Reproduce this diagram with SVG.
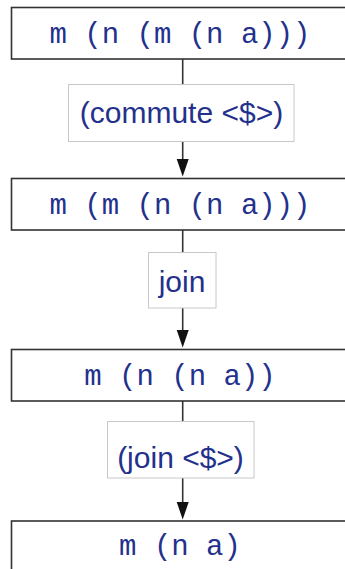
<svg xmlns="http://www.w3.org/2000/svg" width="345" height="569" viewBox="0 0 345 569">
<style>
.node rect{fill:#fff;stroke:#333;stroke-width:1.6}
.node text{font-family:"Liberation Mono","Courier New",monospace;font-size:29px;fill:#23318c;text-anchor:middle}
.edge line{stroke:#333;stroke-width:1.6}
.edge path{fill:#111}
.lbl rect{fill:#fff;stroke:#c8c8c8;stroke-width:1}
.lbl text{font-family:"Liberation Sans",Arial,sans-serif;font-size:30px;fill:#23318c;text-anchor:middle}
</style>
<g id="connectors" class="edge">
<line x1="182.7" y1="59" x2="182.7" y2="160"/>
<path d="M176.7,159 L188.7,159 L182.7,176.5 Z"/>
<line x1="182.7" y1="230" x2="182.7" y2="331"/>
<path d="M176.7,330 L188.7,330 L182.7,347.5 Z"/>
<line x1="182.7" y1="401" x2="182.7" y2="503"/>
<path d="M176.7,502 L188.7,502 L182.7,519.5 Z"/>
</g>
<g id="n1" class="node"><rect x="11.5" y="7.5" width="343" height="51.5"/><text x="180" y="43">m (n (m (n a)))</text></g>
<g id="n2" class="node"><rect x="11.5" y="178.5" width="343" height="51.5"/><text x="180" y="214">m (m (n (n a)))</text></g>
<g id="n3" class="node"><rect x="11.5" y="349.5" width="343" height="51.5"/><text x="180" y="385">m (n (n a))</text></g>
<g id="n4" class="node"><rect x="11.5" y="521" width="343" height="60"/><text x="180" y="555">m (n a)</text></g>
<g id="l1" class="lbl"><rect x="68.5" y="84.5" width="225.5" height="57"/><text x="181.5" y="123">(commute &lt;$&gt;)</text></g>
<g id="l2" class="lbl"><rect x="148.5" y="252.5" width="67.5" height="55.5"/><text x="182" y="292">join</text></g>
<g id="l3" class="lbl"><rect x="107.5" y="421.5" width="146.5" height="56.5"/><text x="180.5" y="468">(join &lt;$&gt;)</text></g>
</svg>
